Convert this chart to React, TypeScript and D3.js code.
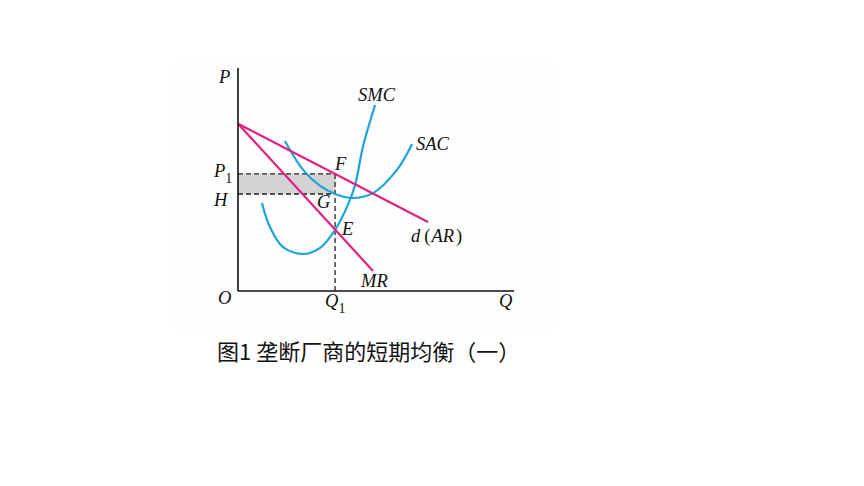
import React from "react";
import * as d3 from "d3";

// Demand (average revenue) and marginal revenue lines: [quantity, price]
const demandPoints: [number, number][] = [[0, 7.5], [8.26, 3.09]];
const mrPoints: [number, number][] = [[0, 7.5], [5.87, 0.9]];

// Short-run average cost curve
const sacPoints: [number, number][] = [
  [2.04, 6.73], [2.83, 5.43], [3.57, 4.71], [4.22, 4.35],
  [4.96, 4.17], [5.87, 4.39], [6.91, 5.43], [7.57, 6.59],
];

// Short-run marginal cost curve
const smcPoints: [number, number][] = [
  [1.04, 3.95], [1.39, 2.87], [1.96, 1.97], [2.87, 1.66], [3.57, 1.93],
  [4.22, 2.74], [4.74, 3.77], [5.09, 4.75], [5.43, 6.46], [5.96, 8.34],
];

// Equilibrium quantities and prices
const q1 = [4.22];
const p1 = [5.25];
const hLevel = [4.35];

const xMax = 12;
const yMax = 10;

const PINK = "#e3207f";
const BLUE = "#1ba4d8";
const SERIF = "'Liberation Serif', 'DejaVu Serif', serif";

export default function App() {
  const x = d3.scaleLinear().domain([0, xMax]).range([238, 514]);
  const y = d3.scaleLinear().domain([0, yMax]).range([291, 68]);

  const straight = d3
    .line<[number, number]>()
    .x((d) => x(d[0]))
    .y((d) => y(d[1]));
  const smooth = d3
    .line<[number, number]>()
    .x((d) => x(d[0]))
    .y((d) => y(d[1]))
    .curve(d3.curveCatmullRom.alpha(0.5));

  const Q1 = q1[0];
  const P1 = p1[0];
  const H = hLevel[0];

  const labelStyle = { fontFamily: SERIF, fontStyle: "italic", fontSize: 18.5, fill: "#111" } as const;

  return (
    <svg
      width={864}
      height={486}
      style={{ position: "absolute", left: 0, top: 0, background: "#fff" }}
    >
      <rect x={170} y={62} width={388} height={268} fill="#fefefe" />

      {/* profit rectangle */}
      <rect
        x={x(0)}
        y={y(P1)}
        width={x(Q1) - x(0)}
        height={y(H) - y(P1)}
        fill="#d4d2d4"
      />

      {/* dashed guides */}
      <g stroke="#222" strokeWidth={1.3} strokeDasharray="5,3" fill="none">
        <line x1={x(0)} y1={y(P1)} x2={x(Q1)} y2={y(P1)} />
        <line x1={x(0)} y1={y(H)} x2={x(Q1)} y2={y(H)} />
        <line x1={x(Q1)} y1={y(P1)} x2={x(Q1)} y2={y(0)} />
      </g>

      {/* cost curves */}
      <path d={smooth(sacPoints) || ""} fill="none" stroke={BLUE} strokeWidth={2.2} />
      <path d={smooth(smcPoints) || ""} fill="none" stroke={BLUE} strokeWidth={2.2} />

      {/* revenue lines */}
      <path d={straight(demandPoints) || ""} fill="none" stroke={PINK} strokeWidth={2.2} />
      <path d={straight(mrPoints) || ""} fill="none" stroke={PINK} strokeWidth={2.2} />

      {/* axes */}
      <line x1={x(0)} y1={y(0)} x2={x(0)} y2={y(yMax)} stroke="#111" strokeWidth={1.6} />
      <line x1={x(0)} y1={y(0)} x2={x(xMax)} y2={y(0)} stroke="#111" strokeWidth={1.6} />

      {/* axis labels */}
      <text x={219} y={83} {...labelStyle}>P</text>
      <text x={218} y={304} {...labelStyle}>O</text>
      <text x={499} y={307} {...labelStyle}>Q</text>
      <text x={x(Q1) - 10} y={307} {...labelStyle}>
        Q<tspan dy={6} fontStyle="normal" fontSize={14}>1</tspan>
      </text>
      <text x={214} y={y(P1) + 3} {...labelStyle}>
        P<tspan dy={6} fontStyle="normal" fontSize={14}>1</tspan>
      </text>
      <text x={214} y={y(H) + 12} {...labelStyle}>H</text>

      {/* point labels */}
      <text x={x(Q1)} y={y(P1) - 4} {...labelStyle}>F</text>
      <text x={x(Q1) - 18} y={y(H) + 14} {...labelStyle}>G</text>
      <text x={x(Q1) + 7} y={235} {...labelStyle}>E</text>

      {/* curve labels */}
      <text x={358} y={101} {...labelStyle}>SMC</text>
      <text x={416} y={150} {...labelStyle}>SAC</text>
      <text x={411} y={242} {...labelStyle}>
        d<tspan fontStyle="normal" dx={4}>(</tspan>
        <tspan dx={1}>AR</tspan>
        <tspan fontStyle="normal" dx={2}>)</tspan>
      </text>
      <text x={361} y={287} {...labelStyle}>MR</text>

      {/* caption */}
      <text
        x={217}
        y={360}
        fontFamily="'Noto Sans CJK SC', 'Noto Sans', sans-serif"
        fontSize={22}
        fill="#111"
      >
        图1 垄断厂商的短期均衡（一）
      </text>
    </svg>
  );
}
